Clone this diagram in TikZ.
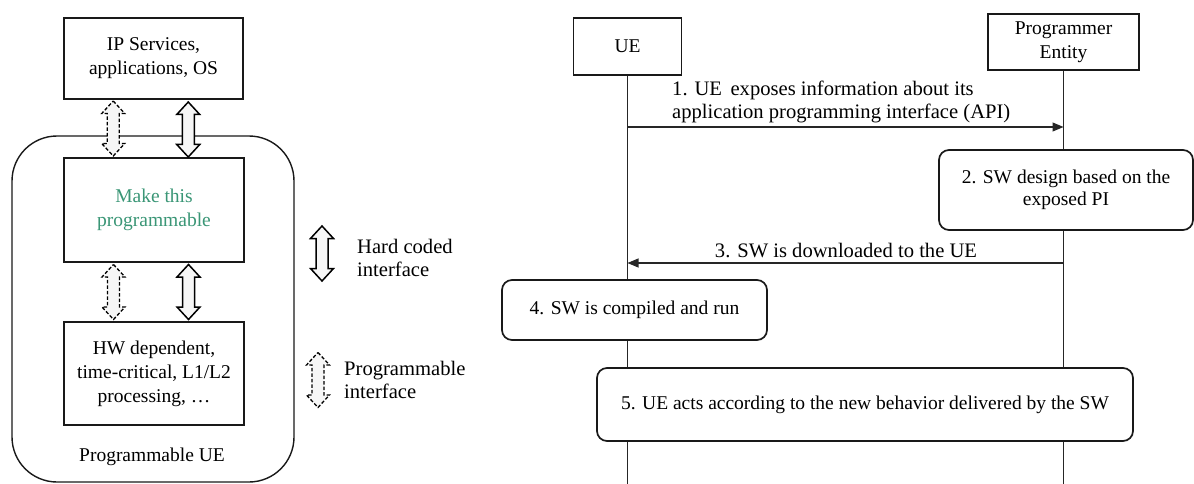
\documentclass[tikz,border=0pt]{standalone}
\usepackage{fontspec}
\setmainfont{Liberation Serif}
\usetikzlibrary{arrows.meta,calc}
\definecolor{mintgreen}{RGB}{58,150,118}
\definecolor{arrowfill}{RGB}{246,246,246}
\tikzset{
  boxfont/.style={font=\rmfamily\fontsize{19.5}{24}\selectfont},
  msgfont/.style={font=\rmfamily\fontsize{20.6}{23}\selectfont},
  sqbox/.style={draw=black!90, line width=1.7pt, fill=white, inner sep=0pt,
    align=center, boxfont},
  stepbox/.style={sqbox, rounded corners=10pt},
  lifeline/.style={draw=black!85, line width=0.9pt},
  msg/.style={draw=black!85, line width=1.1pt, -{Triangle[length=11pt,width=9pt]}},
  pics/blockarrow/.style={code={
    \draw[pic actions] (0,-27.5) -- (11.5,-15) -- (6,-15) -- (6,15) -- (11.5,15)
      -- (0,27.5) -- (-11.5,15) -- (-6,15) -- (-6,-15) -- (-11.5,-15) -- cycle;
  }},
  hardarrow/.style={draw=black, line width=1.5pt, fill=arrowfill, line join=miter},
  progarrow/.style={draw=black, line width=1.3pt, dash pattern=on 3.5pt off 2pt,
    fill=arrowfill, line join=miter}
}
\begin{document}
\begin{tikzpicture}[x=1pt, y=-1pt]
\useasboundingbox (0,0) rectangle (1194,484);

% ---------- programmable UE stack ----------
\node[draw=black!90, line width=1.4pt, rounded corners=45pt, minimum width=282pt,
  minimum height=346pt, inner sep=0pt] (pue) at (153,309) {};
\node[sqbox, minimum width=179pt, minimum height=81pt] (ip) at (153.5,58.5)
  {IP Services,\\applications, OS};
\node[sqbox, minimum width=180pt, minimum height=104pt, text=mintgreen] (mk) at (154,210)
  {Make this\\programmable};
\node[sqbox, minimum width=180pt, minimum height=103pt] (hw) at (154,373.5)
  {HW dependent,\\time-critical, L1/L2\\processing, \dots};
\node[boxfont, inner sep=0pt] (puelabel) at (152,457) {Programmable UE};

% interfaces between the layers
\pic[progarrow] at ($(ip.south)!0.5!(mk.north)+(-40.5,0)$) {blockarrow};
\pic[hardarrow] at ($(ip.south)!0.5!(mk.north)+(34.5,1)$) {blockarrow};
\pic[progarrow] at ($(mk.south)!0.5!(hw.north)+(-40.5,0)$) {blockarrow};
\pic[hardarrow] at ($(mk.south)!0.5!(hw.north)+(34.5,0)$) {blockarrow};

% legend
\pic[hardarrow] at (322,253.5) {blockarrow};
\node[msgfont, anchor=west, align=left, inner sep=0pt] (lghard) at (357,258)
  {Hard coded\\interface};
\pic[progarrow] at (318,380) {blockarrow};
\node[msgfont, anchor=west, align=left, inner sep=0pt] (lgprog) at (344,380)
  {Programmable\\interface};

% ---------- sequence ----------
\node[sqbox, minimum width=108pt, minimum height=57pt] (ue) at (627.5,46.5) {UE};
\node[sqbox, minimum width=151pt, minimum height=56pt] (pe) at (1063.5,42)
  {Programmer\\Entity};
\coordinate (ueend) at (627.5,484);
\coordinate (peend) at (1063.5,484);
\draw[lifeline] (ue.south) -- (ueend);
\draw[lifeline] (pe.south) -- (peend);

% 1. API exposure
\coordinate (m1a) at (ue.south |- 0,127);
\coordinate (m1b) at (pe.south |- 0,127);
\draw[msg] (m1a) -- (m1b);
\node[msgfont, anchor=west, align=left, inner sep=0pt] (m1label) at (672,102)
  {1. UE\, exposes information about its\\application programming interface (API)};

% 2. SW design
\node[stepbox, minimum width=254pt, minimum height=80pt,
  font=\rmfamily\fontsize{19.5}{22}\selectfont]
  (s2) at (1066,190) {2. SW design based on the\\exposed PI};

% 3. download
\coordinate (m3a) at (pe.south |- 0,263);
\coordinate (m3b) at (ue.south |- 0,263);
\draw[msg] (m3a) -- (m3b);
\node[msgfont, inner sep=0pt] (m3label) at (846,251) {3. SW is downloaded to the UE};

% 4. compile and run
\node[stepbox, minimum width=265pt, minimum height=60pt] (s4) at (634.5,310)
  {4. SW is compiled and run};

% 5. new behaviour
\node[stepbox, minimum width=536pt, minimum height=73pt] (s5) at (865,404.5)
  {5. UE acts according to the new behavior delivered by the SW};
\end{tikzpicture}
\end{document}
